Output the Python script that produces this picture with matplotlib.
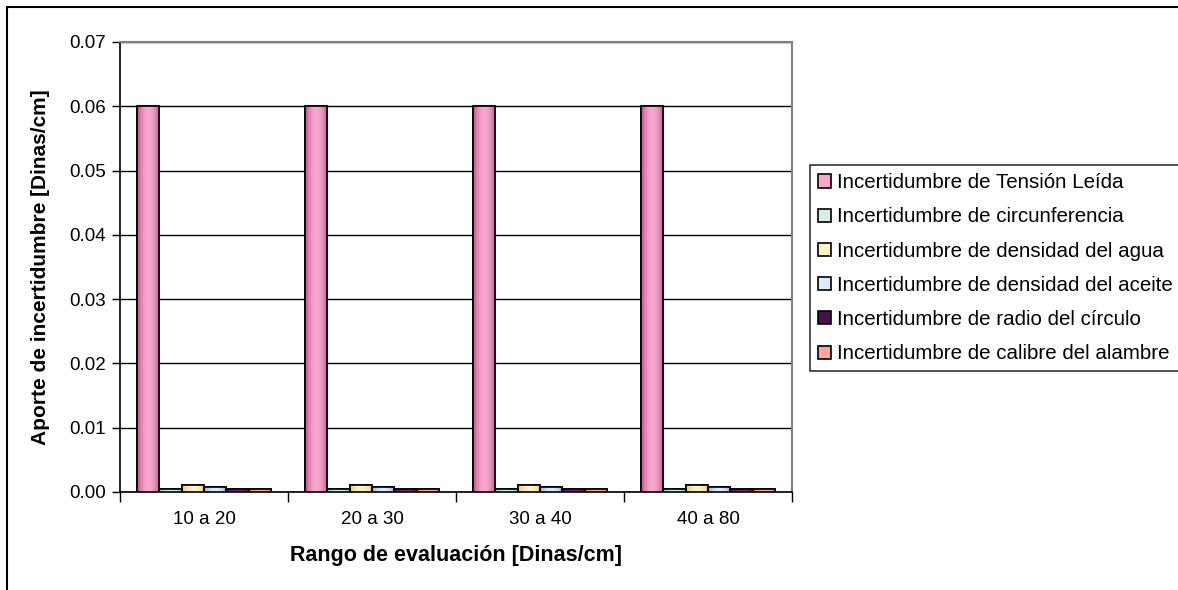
import numpy as np
import matplotlib.pyplot as plt
from matplotlib.patches import Rectangle
from matplotlib.colors import to_rgb

plt.rcParams['font.family'] = ['Liberation Sans', 'DejaVu Sans']

rangos = ["10 a 20", "20 a 30", "30 a 40", "40 a 80"]
series = [
    "Incertidumbre de Tensión Leída",
    "Incertidumbre de circunferencia",
    "Incertidumbre de densidad del agua",
    "Incertidumbre de densidad del aceite",
    "Incertidumbre de radio del círculo",
    "Incertidumbre de calibre del alambre",
]
tension = [0.06, 0.06, 0.06, 0.06]
circunferencia = [0.0005, 0.0005, 0.0005, 0.0005]
agua = [0.0011, 0.0011, 0.0011, 0.0011]
aceite = [0.0008, 0.0008, 0.0008, 0.0008]
radio = [0.0005, 0.0005, 0.0005, 0.0005]
calibre = [0.0005, 0.0005, 0.0005, 0.0005]
valores = [tension, circunferencia, agua, aceite, radio, calibre]

# (edge of bar, centre of bar) for the cylinder-like shading
colores = [
    ("#b8407f", "#f6a8cf"),
    ("#7fc4ad", "#d6f2e6"),
    ("#f2b25c", "#fff2c4"),
    ("#7fa6dc", "#dcebfb"),
    ("#4a1048", "#7a3078"),
    ("#e06868", "#f8a8a0"),
]

fig = plt.figure(figsize=(11.78, 5.9), dpi=100)
W, H = 1178, 590
ax = fig.add_axes([120 / W, 1 - 492 / H, (792 - 120) / W, (492 - 42) / H])

x = np.arange(len(rangos))
n = len(series)
ancho = 0.8 / n

t = np.linspace(0, 1, 64)
perfil = np.sin(np.pi * t) ** 0.7

for i, (nombre, vals, (c0, c1)) in enumerate(zip(series, valores, colores)):
    pos = x - 0.4 + ancho * (i + 0.5)
    bars = ax.bar(pos, vals, width=ancho, color=c1, edgecolor='black',
                  linewidth=1.2, label=nombre, zorder=3)
    a, b = np.array(to_rgb(c0)), np.array(to_rgb(c1))
    grad = (a[None, :] * (1 - perfil[:, None]) + b[None, :] * perfil[:, None])[None, :, :]
    for bar in bars:
        x0, y0 = bar.get_x(), bar.get_y()
        im = ax.imshow(grad, extent=[x0, x0 + bar.get_width(), y0, y0 + bar.get_height()],
                       aspect='auto', zorder=3.5, interpolation='bilinear')
        im.set_clip_path(bar)
        outline = Rectangle((x0, y0), bar.get_width(), bar.get_height(), fill=False,
                            edgecolor='black', linewidth=1.2, zorder=4)
        ax.add_patch(outline)

ax.set_xlim(-0.5, len(rangos) - 0.5)
ax.set_ylim(0, 0.07)
ax.set_yticks(np.arange(0, 0.0701, 0.01))
ax.set_yticklabels([f"{v:.2f}" for v in np.arange(0, 0.0701, 0.01)])
ax.set_xticks(x)
ax.set_xticklabels(rangos)
ax.set_xticks(np.arange(-0.5, len(rangos), 1), minor=True)
ax.tick_params(axis='x', which='major', length=0, pad=14, labelsize=13.5)
ax.tick_params(axis='x', which='minor', length=7, width=1, direction='out')
ax.tick_params(axis='y', length=6, width=1, direction='out', pad=4, labelsize=13.5)
ax.grid(axis='y', color='black', linewidth=1, zorder=1)
ax.set_axisbelow(True)

for s in ['left', 'bottom']:
    ax.spines[s].set_color('black')
    ax.spines[s].set_linewidth(1.2)
for s in ['top', 'right']:
    ax.spines[s].set_color('#808080')
    ax.spines[s].set_linewidth(1.5)

ax.set_xlabel("Rango de evaluación [Dinas/cm]", fontsize=15.5, fontweight='bold', labelpad=12)
ax.set_ylabel("Aporte de incertidumbre [Dinas/cm]", fontsize=15, fontweight='bold', labelpad=14)

leg = fig.legend(loc='upper left', bbox_to_anchor=(810 / W, 1 - 165 / H),
                 borderaxespad=0, fontsize=14.8, frameon=True, fancybox=False,
                 handlelength=0.6, handleheight=0.6, handletextpad=0.3,
                 labelspacing=0.74, borderpad=0.4)
leg.get_frame().set_edgecolor('black')
leg.get_frame().set_linewidth(1.2)
for h, (c0, c1) in zip(leg.legend_handles, colores):
    h.set_facecolor(c0 if c0 == "#4a1048" else c1)
    h.set_edgecolor('black')
    h.set_linewidth(1.2)

# outer chart frame running off the right and bottom edges
fig.patches.append(Rectangle((7 / W, -0.1), 1.2, 1 - 7 / H + 0.1, fill=False,
                             edgecolor='black', linewidth=1.5, transform=fig.transFigure))

fig.savefig("out.png", dpi=100)
